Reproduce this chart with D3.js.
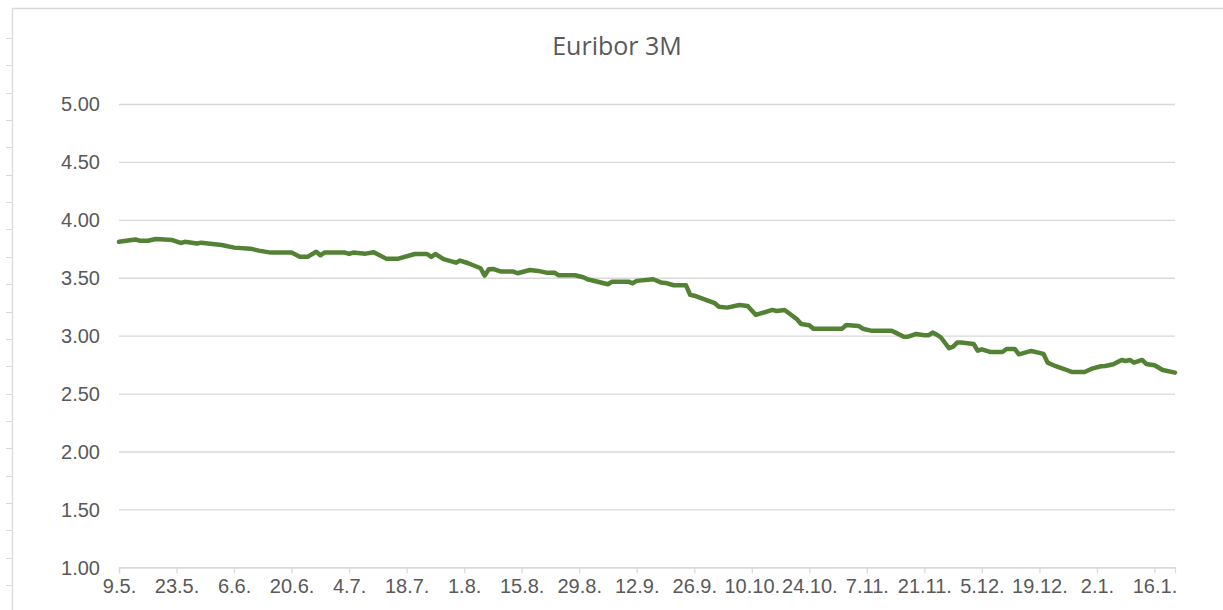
<!DOCTYPE html>
<html>
<head>
<meta charset="utf-8">
<script src="https://cdn.jsdelivr.net/npm/d3@7"></script>
<style>
  body { margin: 0; background: #fff; }
  svg text { fill: #595959; }
</style>
</head>
<body>
<div id="chart"></div>
<script>
'use strict';

var title = "Euribor 3M";

// fixing dates and values
var dates = [
  "2024-05-09", "2024-05-13", "2024-05-14", "2024-05-16", "2024-05-18", "2024-05-22",
  "2024-05-24", "2024-05-25", "2024-05-28", "2024-05-29", "2024-06-03", "2024-06-06",
  "2024-06-10", "2024-06-12", "2024-06-15", "2024-06-20", "2024-06-22", "2024-06-24",
  "2024-06-26", "2024-06-27", "2024-06-28", "2024-07-03", "2024-07-04", "2024-07-05",
  "2024-07-08", "2024-07-10", "2024-07-13", "2024-07-16", "2024-07-20", "2024-07-23",
  "2024-07-24", "2024-07-25", "2024-07-27", "2024-07-30", "2024-07-31", "2024-08-02",
  "2024-08-05", "2024-08-06", "2024-08-07", "2024-08-08", "2024-08-10", "2024-08-13",
  "2024-08-14", "2024-08-17", "2024-08-19", "2024-08-21", "2024-08-23", "2024-08-24",
  "2024-08-28", "2024-08-30", "2024-08-31", "2024-09-05", "2024-09-06", "2024-09-10",
  "2024-09-11", "2024-09-12", "2024-09-16", "2024-09-18", "2024-09-19", "2024-09-21",
  "2024-09-24", "2024-09-25", "2024-09-26", "2024-10-01", "2024-10-02", "2024-10-04",
  "2024-10-07", "2024-10-09", "2024-10-11", "2024-10-15", "2024-10-16", "2024-10-18",
  "2024-10-21", "2024-10-22", "2024-10-24", "2024-10-25", "2024-11-01", "2024-11-02",
  "2024-11-05", "2024-11-06", "2024-11-08", "2024-11-13", "2024-11-14", "2024-11-16",
  "2024-11-17", "2024-11-18", "2024-11-19", "2024-11-21", "2024-11-22", "2024-11-23",
  "2024-11-24", "2024-11-25", "2024-11-27", "2024-11-28", "2024-11-29", "2024-11-30",
  "2024-12-03", "2024-12-04", "2024-12-05", "2024-12-07", "2024-12-10", "2024-12-11",
  "2024-12-13", "2024-12-14", "2024-12-17", "2024-12-19", "2024-12-20", "2024-12-21",
  "2024-12-23", "2024-12-25", "2024-12-27", "2024-12-30", "2025-01-01", "2025-01-03",
  "2025-01-04", "2025-01-06", "2025-01-08", "2025-01-09", "2025-01-10", "2025-01-11",
  "2025-01-13", "2025-01-14", "2025-01-16", "2025-01-18", "2025-01-21"
];

var rates = [
  3.810, 3.830, 3.820, 3.820, 3.835, 3.825,
  3.800, 3.810, 3.795, 3.803, 3.783, 3.760,
  3.751, 3.734, 3.717, 3.717, 3.682, 3.682,
  3.725, 3.694, 3.717, 3.717, 3.705, 3.717,
  3.708, 3.720, 3.665, 3.665, 3.705, 3.705,
  3.680, 3.705, 3.660, 3.630, 3.648, 3.625,
  3.582, 3.518, 3.573, 3.576, 3.553, 3.553,
  3.539, 3.567, 3.559, 3.544, 3.544, 3.521,
  3.521, 3.504, 3.487, 3.444, 3.466, 3.466,
  3.452, 3.473, 3.487, 3.458, 3.455, 3.435,
  3.435, 3.352, 3.345, 3.280, 3.250, 3.242,
  3.265, 3.256, 3.179, 3.222, 3.213, 3.222,
  3.142, 3.101, 3.090, 3.060, 3.060, 3.092,
  3.084, 3.060, 3.043, 3.043, 3.026, 2.991,
  2.991, 3.003, 3.015, 3.003, 3.003, 3.026,
  3.009, 2.986, 2.891, 2.905, 2.940, 2.940,
  2.928, 2.870, 2.882, 2.859, 2.859, 2.885,
  2.885, 2.839, 2.868, 2.851, 2.842, 2.767,
  2.736, 2.712, 2.686, 2.686, 2.718, 2.736,
  2.738, 2.753, 2.790, 2.781, 2.790, 2.767,
  2.790, 2.756, 2.744, 2.704, 2.681
];

var yTicks = [1, 1.5, 2, 2.5, 3, 3.5, 4, 4.5, 5];
var labelStepDays = 14;

var w = 1223;
var h = 610;
var plotLeft = 119;
var plotRight = 1175;
var plotTop = 104;
var plotBottom = 567.3;
var gridColor = "#d9d9d9";
var lineColor = "#548235";

var parseDate = d3.timeParse("%Y-%m-%d");
var data = dates.map(function (d, i) {
  return { date: parseDate(d), value: rates[i] };
});

var svg = d3.select("#chart").append("svg")
  .attr("width", w)
  .attr("height", h);

// chart frame (cut at the window edge) and sheet row marks on the left
svg.append("path")
  .attr("d", "M12.5," + h + " V8.5 H" + w)
  .attr("fill", "none")
  .attr("stroke", gridColor)
  .attr("stroke-width", 1.3);

for (var r = 0; r < 21; r++) {
  var ry = Math.round(38 + r * 27.35) + 0.5;
  svg.append("line")
    .attr("x1", 6).attr("x2", 12)
    .attr("y1", ry).attr("y2", ry)
    .attr("stroke", gridColor);
}

var x = d3.scaleTime()
  .domain([data[0].date, data[data.length - 1].date])
  .range([plotLeft, plotRight]);

var y = d3.scaleLinear()
  .domain([1, 5])
  .range([plotBottom, plotTop]);

var tickDates = d3.range(0, 19).map(function (i) {
  return d3.timeDay.offset(data[0].date, i * labelStepDays);
});

// horizontal gridlines + y labels
var yAxis = d3.axisLeft(y)
  .tickValues(yTicks)
  .tickFormat(d3.format(".2f"))
  .tickSize(-(plotRight - plotLeft))
  .tickPadding(19);

var gy = svg.append("g")
  .attr("transform", "translate(" + plotLeft + ",0)")
  .call(yAxis);
gy.select(".domain").remove();
gy.selectAll(".tick line")
  .attr("stroke", gridColor)
  .attr("stroke-width", 1.3);
gy.selectAll(".tick text")
  .attr("font-family", "'Liberation Sans', Arial, sans-serif")
  .attr("font-size", 20)
  .attr("dy", "0.34em");

// date axis
var xAxis = d3.axisBottom(x)
  .tickValues(tickDates)
  .tickFormat(d3.timeFormat("%-d.%-m."))
  .tickSizeOuter(0)
  .tickSize(6)
  .tickPadding(6);

var gx = svg.append("g")
  .attr("transform", "translate(0," + plotBottom + ")")
  .call(xAxis);
gx.select(".domain")
  .attr("stroke", gridColor)
  .attr("stroke-width", 1.3);
gx.selectAll(".tick line")
  .attr("stroke", gridColor)
  .attr("stroke-width", 1.3);
gx.selectAll(".tick text")
  .attr("font-family", "'Liberation Sans', Arial, sans-serif")
  .attr("font-size", 20);

// series
var line = d3.line()
  .x(function (d) { return x(d.date); })
  .y(function (d) { return y(d.value); });

svg.append("path")
  .datum(data)
  .attr("d", line)
  .attr("fill", "none")
  .attr("stroke", lineColor)
  .attr("stroke-width", 4.5)
  .attr("stroke-linejoin", "round")
  .attr("stroke-linecap", "round");

svg.append("text")
  .attr("x", 617)
  .attr("y", 55)
  .attr("text-anchor", "middle")
  .attr("font-family", "'Open Sans', 'Noto Sans', sans-serif")
  .attr("font-size", 25)
  .text(title);
</script>
</body>
</html>
